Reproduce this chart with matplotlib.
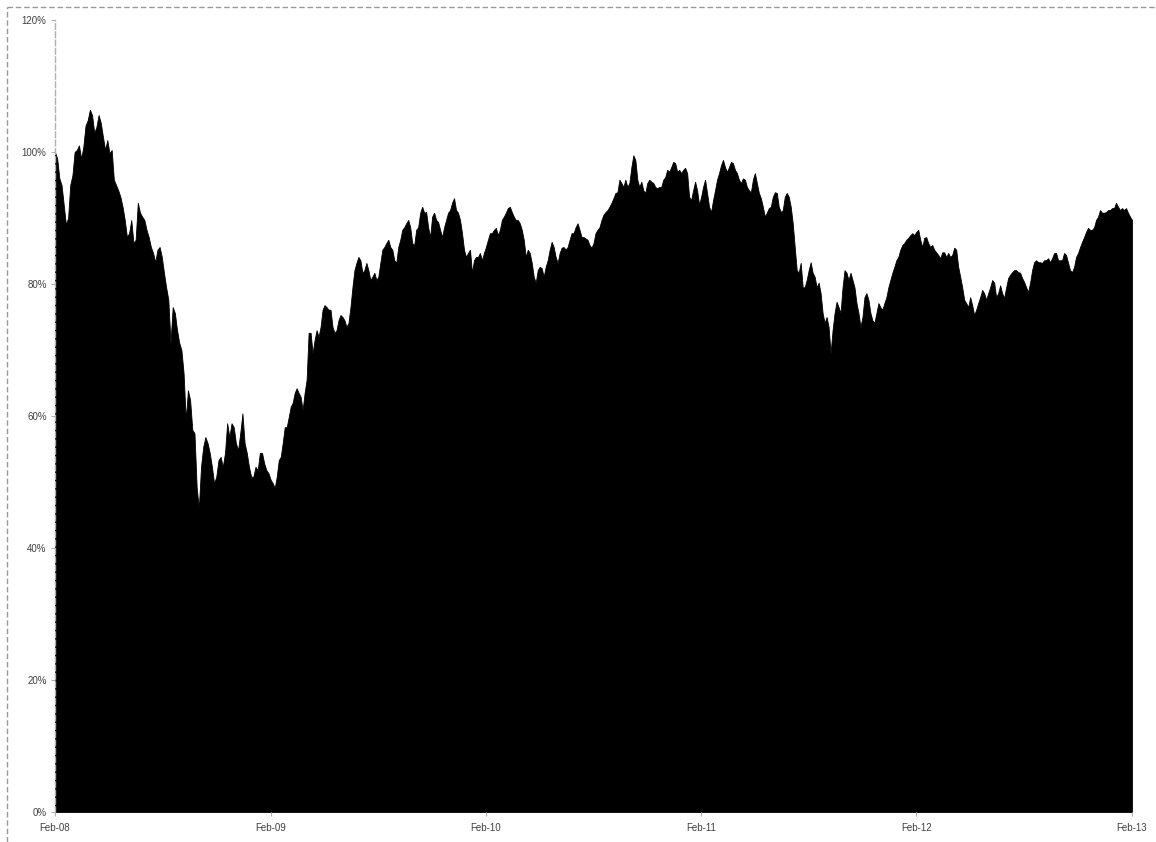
# libraries
import pandas as pd
import matplotlib
matplotlib.use('Agg')
import matplotlib.pyplot as plt
import matplotlib.dates as mdates
from matplotlib.lines import Line2D

# data: cumulative value in % of start, one list per year
year_starts = ['2008-02-01', '2009-02-01', '2010-02-01', '2011-02-01',
               '2012-02-01', '2013-02-01']
x_labels = ['Feb-08', 'Feb-09', 'Feb-10', 'Feb-11', 'Feb-12', 'Feb-13']
y_ticks = [0, 20, 40, 60, 80, 100, 120]

v2008 = [100, 99, 96, 95, 92, 89, 90, 95, 96.5, 100, 100.3, 101, 99, 100.8,
         104, 104.8, 106.4, 105.6, 102.9, 103.8, 105.6, 104.4, 102.3, 100.3,
         101.8, 99.8, 100.3, 95.8, 95, 94.2, 93.2, 91.7, 89.7, 87.1, 87.7,
         89.7, 86.2, 86.7, 92.3, 90.8, 90.2, 89.7, 88.2, 87.1, 85.6, 84.7,
         83.3, 85.2, 85.6, 84.1, 81.7, 79.5, 77.6, 71.1, 76.5, 75.6, 73, 71.1,
         70, 66.5, 59.4, 63.9, 62.4, 57.9, 57.4, 49.2, 46, 52.3, 55.3, 56.8,
         55.9, 54.4, 52.3, 49.8, 50.8, 53.3, 53.8, 52.3, 54.4, 58.9, 56.8,
         58.9, 58.3, 55.9, 54.8, 57.4, 60.4, 55.9, 54.4, 52.3, 50.8, 50.8,
         52.3, 51.8, 54.4, 54.4, 52.8, 51.8, 51.3]

v2009 = [50.3, 49.8, 49.1, 50.8, 53.3, 53.8, 55.9, 58.3, 58.3, 59.8, 61.4,
         62, 63.5, 64.2, 63.5, 62.9, 60.9, 63.5, 65.5, 72.6, 72.6, 69.5, 71.5,
         73, 72, 73.5, 76.1, 76.8, 76.5, 76.1, 76.1, 73.5, 72.6, 73, 74.5,
         75.3, 75, 74.5, 73.5, 74.1, 76.5, 79.5, 82.1, 83.2, 84.1, 83.6, 81.7,
         82.1, 83.2, 82.1, 80.6, 81.1, 81.7, 80.6, 81.1, 83.2, 85.2, 85.6,
         86.2, 86.7, 85.6, 85.2, 83.6, 83.2, 85.6, 86.7, 88.2, 88.6, 89.2,
         89.7, 88.6, 86.2, 85.9, 88.2, 88.6, 90.8, 91.7, 90.8, 90.9, 88.6,
         87.1, 90.2, 90.8, 89.7, 89.4, 88.2, 87.1, 88.6, 89.7, 90.8, 91.2,
         92.3, 93, 91.2, 90.8, 89.7, 87.7, 85.2, 84.1, 84.7, 85.2, 81.7, 83.6,
         84.1, 84.1, 84.7, 83.6, 84.7]

v2010 = [85.6, 86.7, 87.7, 87.7, 88.2, 88.5, 87.4, 88.2, 89.7, 90.2, 90.8,
         91.5, 91.7, 90.9, 90.2, 89.7, 89.7, 89.2, 88.2, 86.7, 84.1, 85.2,
         84.7, 83.2, 81.1, 80.2, 82.1, 82.6, 82.4, 81.1, 82.6, 83.6, 85.2,
         86.4, 85.6, 84.1, 83.2, 84.7, 85.5, 85.6, 85.2, 85.6, 86.7, 87.7,
         87.7, 88.6, 89.2, 88.2, 87.1, 87.1, 86.9, 86.7, 85.9, 85.5, 86.2,
         87.7, 88.2, 88.6, 89.7, 90.5, 90.9, 91.2, 91.7, 92.3, 93, 93.8, 93.9,
         95.8, 95.3, 94.7, 95.8, 94.7, 95.3, 97.7, 99.5, 98.8, 95.8, 94.7,
         95.5, 94.2, 93.8, 95.3, 95.8, 95.5, 95.3, 94.7, 94.5, 94.7, 94.7,
         95.8, 96.2, 97.3, 97, 97.7, 98.5, 98.3, 97, 97.3, 96.8, 97.3, 97.6,
         96.8, 93.2, 92.7, 94.2, 95.5, 94.2, 92]

v2011 = [93.2, 94.7, 95.8, 93.8, 91.7, 90.9, 92.7, 94.2, 95.8, 96.8, 98,
         98.8, 97.7, 97, 97.7, 98.5, 98.3, 97.3, 96.8, 95.8, 95.3, 96, 95.8,
         94.7, 94.2, 93.9, 95.8, 96.8, 95.3, 93.8, 93, 91.7, 90.2, 90.8, 91.5,
         91.7, 93.2, 93.9, 93.8, 91.7, 90.9, 91.2, 93.2, 93.8, 93.2, 91.7,
         89.2, 85.6, 82.1, 81.7, 83.2, 79.5, 79.5, 80.6, 82.1, 83.3, 81.7,
         81.1, 79.5, 80.2, 78.6, 75.6, 74.1, 75, 73.5, 69.5, 73, 75.6, 77.3,
         76.5, 75.6, 79.5, 82.1, 81.7, 80.6, 81.7, 80.6, 79.5, 77.1, 75.6,
         73.5, 75, 78, 78.6, 77.6, 75.6, 74.5, 74.1, 75.6, 77.1, 76.5, 76.1,
         77.1, 78, 79.5, 80.6, 81.7, 82.6, 83.6, 84.1, 85.2, 85.9, 86.2, 86.7,
         87, 87.4, 87.7, 87.4]

v2012 = [87.9, 88.2, 86.7, 85.6, 87, 87.1, 86.2, 85.6, 85.9, 85.2, 84.8,
         84.4, 83.9, 84.8, 84.8, 84.1, 84.7, 84.1, 84.4, 85.5, 85.2, 82.6,
         81.1, 79.5, 77.6, 77.1, 76.5, 78, 76.8, 75.3, 76.1, 77.1, 78, 79.1,
         78.6, 77.6, 78.6, 79.5, 80.6, 80.2, 78, 78.6, 79.8, 78.6, 77.9, 79.5,
         80.9, 81.4, 81.8, 82.1, 82.1, 81.8, 81.7, 80.9, 80.3, 79.5, 78.8,
         80.2, 82.1, 83.3, 83.6, 83.3, 83.3, 83.2, 83.6, 83.6, 83.9, 83.3,
         83.9, 84.7, 84.7, 83.6, 83.6, 83.6, 84.7, 84.4, 83.2, 82.1, 81.8,
         82.6, 84.1, 84.7, 85.6, 86.4, 87.1, 87.9, 88.5, 88.2, 88.2, 88.6,
         89.7, 90.2, 91.2, 90.8, 90.8, 90.9, 91.2, 91.2, 91.5, 91.5, 92.3,
         91.7, 91.2, 91.5, 91.2, 91.5, 90.8, 90.2, 89.7]

# spread each year's readings evenly over that year
series = [v2008, v2009, v2010, v2011, v2012]
dates, values = [], []
for i, vals in enumerate(series):
    last = i == len(series) - 1
    rng = pd.date_range(year_starts[i], year_starts[i + 1],
                        periods=len(vals) if last else len(vals) + 1)
    if not last:
        rng = rng[:-1]
    dates.extend(rng)
    values.extend(vals)

plt.rcParams['font.family'] = ['Liberation Sans', 'DejaVu Sans']

fig = plt.figure(figsize=(11.56, 8.42), dpi=100)
ax = fig.add_axes([55 / 1156, 30 / 842, 1077 / 1156, 792 / 842])

ax.fill_between(dates, values, 0, color='black', linewidth=0.6,
                edgecolor='black')

ax.set_ylim(0, 120)
ax.set_xlim(pd.Timestamp(year_starts[0]), pd.Timestamp(year_starts[-1]))
ax.set_yticks(y_ticks)
ax.set_yticklabels([f'{t}%' for t in y_ticks])
ax.set_xticks([pd.Timestamp(d) for d in year_starts])
ax.set_xticklabels(x_labels)

for side in ['top', 'right', 'bottom']:
    ax.spines[side].set_visible(False)
ax.spines['left'].set_color('#b0b0b0')
ax.spines['left'].set_linestyle((0, (4, 2)))
ax.spines['left'].set_linewidth(1)
ax.tick_params(axis='y', length=3, width=0.8, color='#b0b0b0',
               labelsize=7, labelcolor='#404040', pad=3)
ax.tick_params(axis='x', length=3, width=0.8, color='#b0b0b0',
               labelsize=7, labelcolor='#404040', pad=5)

# dashed chart-area border (left and top edges visible)
fig.add_artist(Line2D([7 / 1156, 7 / 1156], [0, 835 / 842],
                      transform=fig.transFigure, color='#9a9a9a',
                      linestyle=(0, (4, 2)), linewidth=1))
fig.add_artist(Line2D([7 / 1156, 1], [835 / 842, 835 / 842],
                      transform=fig.transFigure, color='#9a9a9a',
                      linestyle=(0, (4, 2)), linewidth=1))

fig.savefig('out.png', dpi=100)
